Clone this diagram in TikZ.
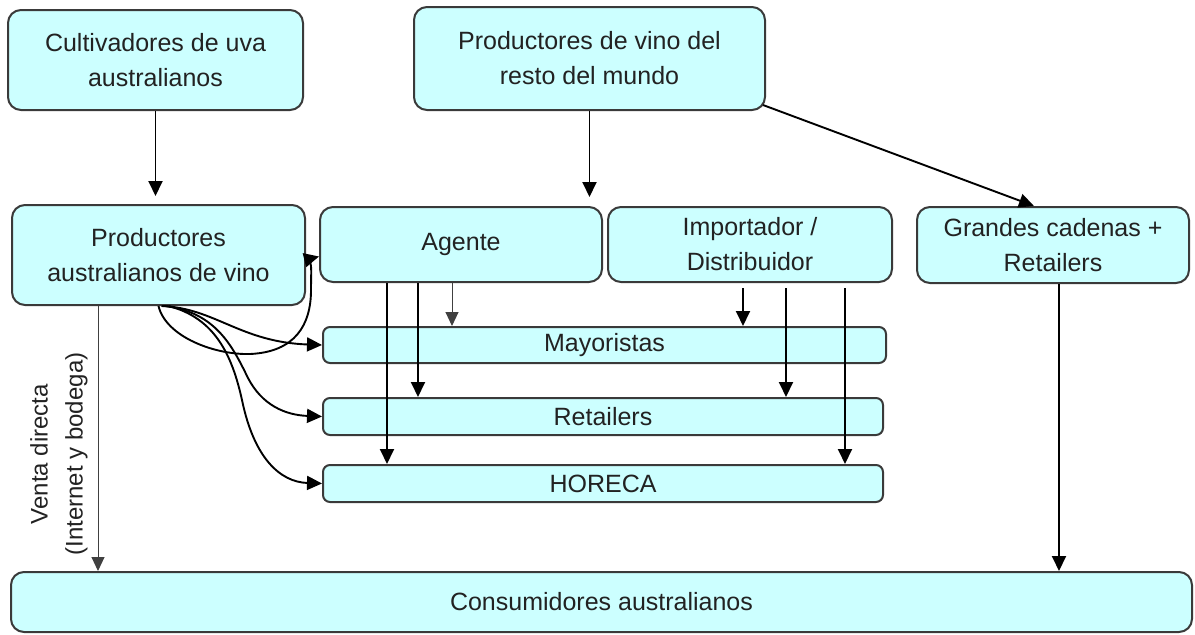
\documentclass[tikz,border=0pt]{standalone}
\usepackage{fontspec}
\setmainfont{Liberation Sans}
\usetikzlibrary{arrows.meta,calc}
\definecolor{boxfill}{HTML}{CCFFFF}
\definecolor{boxline}{HTML}{3A3A3A}
\definecolor{txt}{HTML}{222222}
\begin{document}
\begin{tikzpicture}[x=1pt,y=-1pt,
  box/.style={draw=boxline, fill=boxfill, line width=2pt, rounded corners=13pt,
    align=center, text=txt, font=\fontsize{25}{35}\selectfont, inner sep=0pt},
  bar/.style={box, rounded corners=7pt},
  arr/.style={-{Triangle[length=15pt,width=14pt]}, line width=1.9pt},
  thinarr/.style={-{Triangle[length=14pt,width=13pt]}, line width=1pt, draw=black!75, fill=black!75},
  lbl/.style={align=center, text=txt, font=\fontsize{24}{35}\selectfont, inner sep=0pt}
]
\useasboundingbox (0,0) rectangle (1195,635);

\node[box, minimum width=295pt, minimum height=100pt] (cu) at (155.5,60) {Cultivadores de uva\\australianos};
\node[box, minimum width=351pt, minimum height=103pt] (rw) at (589.5,58.5) {Productores de vino del\\resto del mundo};
\node[box, minimum width=293pt, minimum height=100pt] (pa) at (158.5,255) {Productores\\australianos de vino};
\node[box, minimum width=282pt, minimum height=75pt] (ag) at (461,244.5) {Agente};
\node[box, minimum width=284pt, minimum height=75pt] (im) at (750,244.5) {Importador /\\Distribuidor};
\node[box, minimum width=272pt, minimum height=76pt] (gr) at (1053,245) {Grandes cadenas +\\Retailers};
\node[bar, minimum width=563pt, minimum height=36pt] (ma) at (604.5,345) {Mayoristas};
\node[bar, minimum width=560pt, minimum height=37pt] (re) at (603,416.5) {Retailers};
\node[bar, minimum width=560pt, minimum height=37pt] (ho) at (603,483.5) {HORECA};
\node[box, minimum width=1181pt, minimum height=60pt] (co) at (601.5,602) {Consumidores australianos};

% top connectors
\draw[arr, shorten >=8pt] (cu.south) -- (cu.south |- pa.north);
\draw[arr, shorten >=9pt] (rw.south) -- (rw.south |- ag.north);
\draw[arr] ([xshift=-3pt,yshift=6pt]rw.south east) -- ([xshift=118pt]gr.north west);

% agente connectors
\draw[arr] ([xshift=68pt]ag.south west) -- ([xshift=68pt]ag.south west |- ho.north);
\draw[arr] ([xshift=99pt]ag.south west) -- ([xshift=99pt]ag.south west |- re.north);
\draw[thinarr] ([xshift=133pt]ag.south west) -- ([xshift=133pt]ag.south west |- ma.north);

% importador connectors
\draw[arr, shorten <=5pt] ([xshift=136pt]im.south west) -- ([xshift=136pt]im.south west |- ma.north);
\draw[arr, shorten <=5pt] ([xshift=179pt]im.south west) -- ([xshift=179pt]im.south west |- re.north);
\draw[arr, shorten <=5pt] ([xshift=238pt]im.south west) -- ([xshift=238pt]im.south west |- ho.north);

% grandes cadenas to consumers
\draw[arr] ([xshift=6pt]gr.south) -- ([xshift=6pt]gr.south |- co.north);

% venta directa
\draw[thinarr] ([xshift=87pt]pa.south west) -- ([xshift=87pt]pa.south west |- co.north);
\node[lbl, rotate=90] (vd) at (59,454) {Venta directa\\(Internet y bodega)};

% curves from productores australianos
\draw[arr] (pa.south) .. controls (166,337) and (215,355) .. (250,354)
  .. controls (295,352) and (311,325) .. (311,290)
  .. controls (311,268) and (313,258) .. ([yshift=-12pt]ag.west);
\draw[arr] ([xshift=3pt]pa.south) .. controls (215,308) and (240,342) .. (ma.west);
\draw[arr] ([xshift=6pt]pa.south) .. controls (215,312) and (232,345) .. (248,378)
  .. controls (262,405) and (285,415) .. (re.west);
\draw[arr] ([xshift=10pt]pa.south) .. controls (215,318) and (232,355) .. (242,400)
  .. controls (254,458) and (280,482) .. (ho.west);
\end{tikzpicture}
\end{document}
